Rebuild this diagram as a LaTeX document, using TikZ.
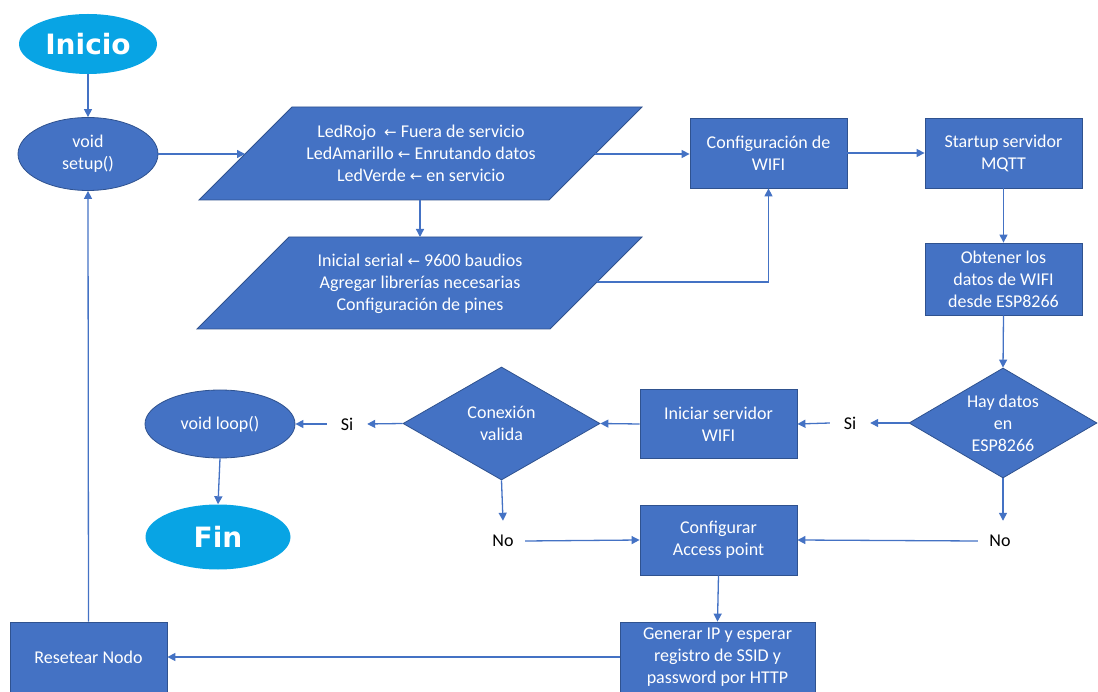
\documentclass[tikz,border=0pt]{standalone}
\usepackage{fontspec}
\setmainfont{Carlito}
\newfontfamily\symf{DejaVu Sans}
\newfontfamily\titlef{DejaVu Sans}
\usetikzlibrary{shapes.geometric,arrows.meta}
\definecolor{boxblue}{RGB}{68,114,196}
\definecolor{boxedge}{RGB}{47,82,143}
\definecolor{cyanfill}{RGB}{8,164,228}
\newcommand{\lar}{{\symf\fontsize{15}{15}\selectfont ←}}
\begin{document}
\begin{tikzpicture}[x=1pt,y=-1pt,
  every node/.style={font=\fontsize{18}{22}\selectfont},
  procbox/.style={rectangle, draw=boxedge, line width=0.8pt, fill=boxblue, text=white, align=center, inner sep=0pt},
  iopath/.style={draw=boxedge, line width=0.8pt, fill=boxblue},
  iotext/.style={text=white, align=center, inner sep=0pt},
  ovalnode/.style={ellipse, draw=boxedge, line width=0.8pt, fill=boxblue, text=white, align=center, inner sep=0pt},
  termnode/.style={ellipse, fill=cyanfill, text=white, inner sep=0pt, font=\titlef\bfseries\fontsize{28}{30}\selectfont},
  decnode/.style={diamond, draw=boxedge, line width=0.8pt, fill=boxblue, text=white, align=center, inner sep=0pt, aspect=1.7},
  lbl/.style={text=black, minimum width=40, minimum height=40, inner sep=0pt},
  arr/.style={draw=boxblue, line width=1.3pt, -{Triangle[width=8pt,length=8pt]}}
]
\useasboundingbox (0,0) rectangle (1098,692);

% parallelograms (about 45 degree slant)
\path[iopath] (199,200) -- (292,107) -- (642,107) -- (549,200) -- cycle;
\path[iopath] (197,329) -- (289,237) -- (642,237) -- (550,329) -- cycle;
\coordinate (p1w) at (245,154);
\coordinate (p1e) at (595,154);
\coordinate (p1s) at (420,200);
\coordinate (p2n) at (420,237);
\coordinate (p2e) at (597,282);

\node[termnode, minimum width=138, minimum height=60] (inicio) at (88,44) {Inicio};
\node[ovalnode, minimum width=140, minimum height=73] (setup) at (88,154) {void\\setup()};
\node[iotext] (p1) at (421,153) {LedRojo \ \lar\ Fuera de servicio\\LedAmarillo \lar\ Enrutando datos\\LedVerde \lar\ en servicio};
\node[iotext] (p2) at (420,284) {Inicial serial \lar\ 9600 baudios\\Agregar librerías necesarias\\Configuración de pines};
\node[procbox, minimum width=157, minimum height=70] (cw) at (768.5,153) {Configuración de\\WIFI};
\node[procbox, minimum width=157, minimum height=70] (mqtt) at (1003.5,153) {Startup servidor\\MQTT};
\node[procbox, minimum width=157, minimum height=72] (obt) at (1003.5,279) {Obtener los\\datos de WIFI\\desde ESP8266};
\node[decnode, minimum width=188, minimum height=110] (hay) at (1003,423) {Hay datos\\en\\ESP8266};
\node[lbl] (si1) at (850,423) {Si};
\node[procbox, minimum width=157, minimum height=69] (ini) at (718.5,424) {Iniciar servidor\\WIFI};
\node[decnode, minimum width=197, minimum height=113] (con) at (501.5,423.5) {Conexión\\valida};
\node[lbl] (si2) at (347,424) {Si};
\node[ovalnode, minimum width=150, minimum height=68] (loop) at (220,424) {void loop()};
\node[termnode, minimum width=145, minimum height=65] (fin) at (218,537) {Fin};
\node[lbl, minimum width=44] (no1) at (503,541) {No};
\node[lbl, minimum width=44] (no2) at (1000,541) {No};
\node[procbox, minimum width=157, minimum height=70] (acc) at (718.5,540) {Configurar\\Access point};
\node[procbox, minimum width=195, minimum height=70] (gen) at (717.5,657) {Generar IP y esperar\\registro de SSID y\\password por HTTP};
\node[procbox, minimum width=157, minimum height=70] (reset) at (88.5,657) {Resetear Nodo};

\draw[arr] (inicio) -- (setup);
\draw[arr] (setup.east) -- (p1w);
\draw[arr] (p1s) -- (p2n);
\draw[arr] (p1e) -- (p1e -| cw.west);
\draw[arr] (p2e) -| (cw.south);
\draw[arr] (cw.east) -- (mqtt.west);
\draw[arr] (mqtt.south) -- (obt.north);
\draw[arr] (obt.south) -- (hay.north);
\draw[arr] (hay.west) -- (si1.east);
\draw[arr] (si1.west) -- (ini.east);
\draw[arr] (ini.west) -- (con.east);
\draw[arr] (con.west) -- (si2.east);
\draw[arr] (si2.west) -- (loop.east);
\draw[arr] (loop.south) -- (fin.north);
\draw[arr] (con.south) -- (no1.north);
\draw[arr] (hay.south) -- (hay.south |- no2.north);
\draw[arr] (no1.east) -- (acc.west);
\draw[arr] (no2.west) -- (acc.east);
\draw[arr] (acc.south) -- (gen.north);
\draw[arr] (gen.west) -- (reset.east);
\draw[arr] (reset.north) -- (setup.south);
\end{tikzpicture}
\end{document}
